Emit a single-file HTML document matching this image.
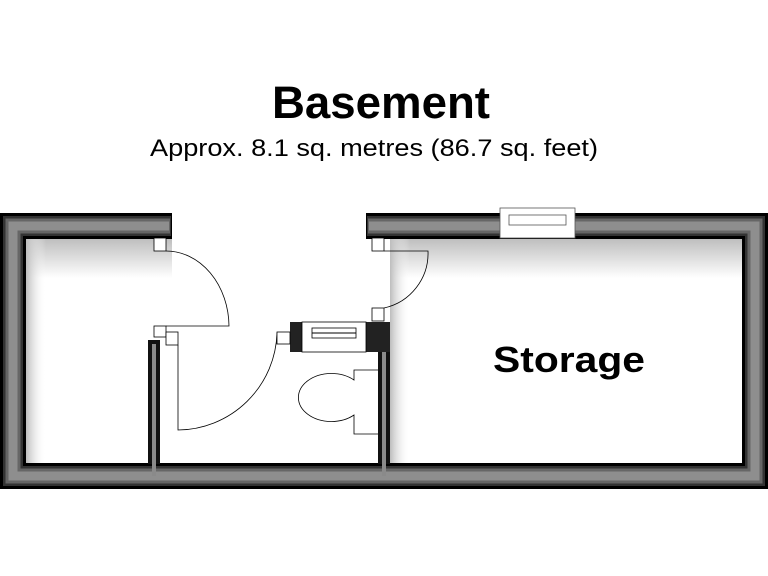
<!DOCTYPE html>
<html><head><style>html,body{margin:0;padding:0;background:#fff;width:768px;height:576px;overflow:hidden}</style></head>
<body>
<svg width="768" height="576" viewBox="0 0 768 576" xmlns="http://www.w3.org/2000/svg" font-family="Liberation Sans, Arial, sans-serif">
<defs>
<linearGradient id="gt" x1="0" y1="0" x2="0" y2="1"><stop offset="0" stop-color="#bdbdbd"/><stop offset="1" stop-color="#fff"/></linearGradient>
<linearGradient id="gl" x1="0" y1="0" x2="1" y2="0"><stop offset="0" stop-color="#bdbdbd"/><stop offset="1" stop-color="#fff" stop-opacity="0"/></linearGradient>
</defs>
<text x="381" y="118" text-anchor="middle" font-weight="bold" font-size="45" textLength="218" lengthAdjust="spacingAndGlyphs">Basement</text>
<text x="374" y="156" text-anchor="middle" font-size="24" textLength="448" lengthAdjust="spacingAndGlyphs">Approx. 8.1 sq. metres (86.7 sq. feet)</text>
<rect x="26" y="238" width="146" height="40" fill="url(#gt)"/>
<rect x="26" y="238" width="20" height="226" fill="url(#gl)"/>
<rect x="390" y="238" width="352" height="40" fill="url(#gt)"/>
<rect x="390" y="238" width="20" height="226" fill="url(#gl)"/>
<path d="M172 226 H13 V476 H755 V226 H366" fill="none" stroke="#000" stroke-width="26"/>
<path d="M171 226 H13 V476 H755 V226 H367" fill="none" stroke="#333" stroke-width="20"/>
<path d="M170 226 H13 V476 H755 V226 H368" fill="none" stroke="#666" stroke-width="15"/>
<path d="M169 226 H13 V476 H755 V226 H369" fill="none" stroke="#8e8e8e" stroke-width="9"/>
<rect x="148" y="340" width="12" height="124" fill="#111"/>
<rect x="152" y="344" width="4" height="132" fill="#8a8a8a"/>
<rect x="378" y="322" width="12" height="142" fill="#111"/>
<rect x="382" y="344" width="4" height="132" fill="#8a8a8a"/>
<rect x="290" y="322" width="100" height="30" fill="#222"/>
<rect x="302" y="322" width="64" height="30" fill="#fff" stroke="#000" stroke-width="0.8"/>
<rect x="312" y="328" width="44" height="10" fill="none" stroke="#000" stroke-width="0.8"/>
<line x1="312" y1="333" x2="356" y2="333" stroke="#000"/>
<rect x="500" y="208" width="75" height="30" fill="#fff" stroke="#555" stroke-width="0.8"/>
<rect x="509" y="215" width="57" height="10" fill="none" stroke="#555" stroke-width="0.8"/>
<rect x="154" y="238" width="12" height="13" fill="#fff" stroke="#000" stroke-width="0.8"/>
<path d="M166 251 A63 76 0 0 1 229 326 H166" fill="none" stroke="#000" stroke-width="0.8"/>
<rect x="154" y="326" width="12" height="11" fill="#fff" stroke="#000" stroke-width="0.8"/>
<rect x="166" y="332" width="12" height="13" fill="#fff" stroke="#000" stroke-width="0.8"/>
<path d="M178 345 V430 A100 100 0 0 0 277 333 H290" fill="none" stroke="#000" stroke-width="0.8"/>
<rect x="277" y="332" width="13" height="12" fill="#fff" stroke="#000" stroke-width="0.8"/>
<rect x="372" y="238" width="12" height="13" fill="#fff" stroke="#000" stroke-width="0.8"/>
<path d="M384 251 H428 A56 56 0 0 1 384 308" fill="none" stroke="#000" stroke-width="0.8"/>
<rect x="372" y="308" width="12" height="13" fill="#fff" stroke="#000" stroke-width="0.8"/>
<path d="M378 370 H354 V380 A33 24 0 1 0 354 415 V434 H378" fill="#fff" stroke="#000" stroke-width="0.8"/>
<text x="569" y="372" text-anchor="middle" font-weight="bold" font-size="36" textLength="152" lengthAdjust="spacingAndGlyphs">Storage</text>
</svg>
</body></html>
